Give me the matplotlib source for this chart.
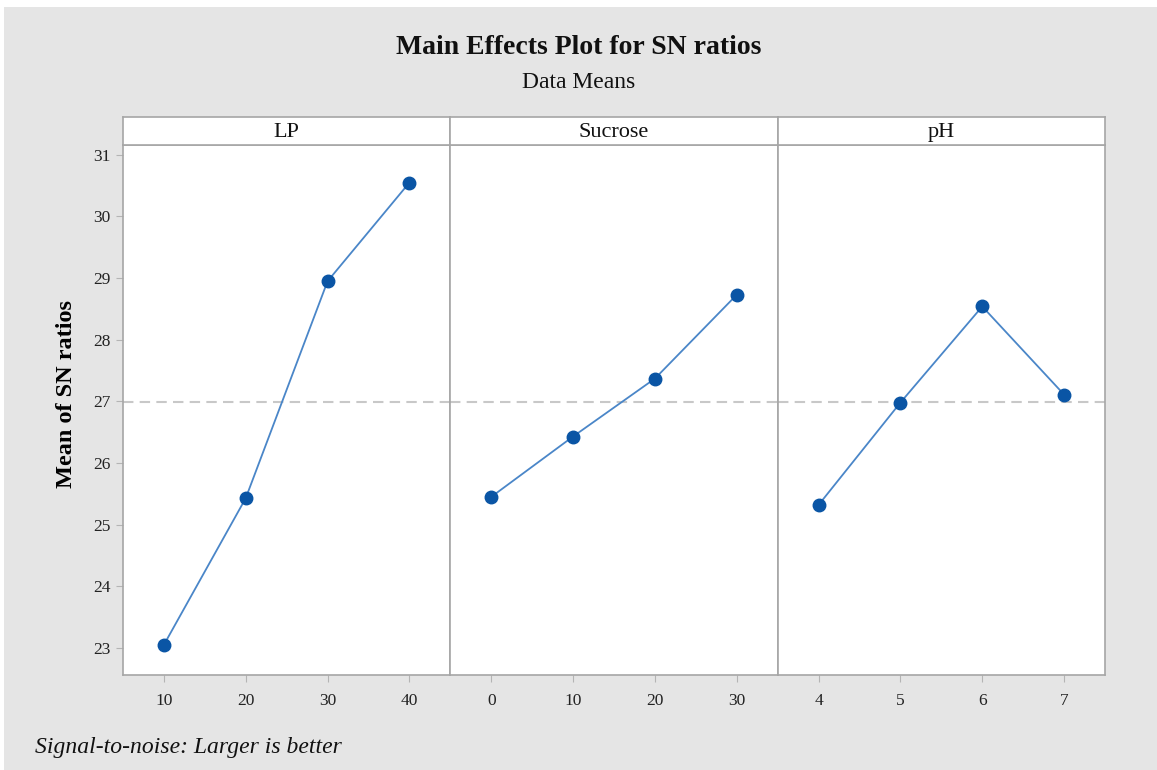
import matplotlib
matplotlib.use("Agg")
import matplotlib.pyplot as plt
import numpy as np
from matplotlib.patches import Rectangle

# Main effects data (mean of SN ratios per factor level)
factors = ["LP", "Sucrose", "pH"]
lp_levels = ["10", "20", "30", "40"]
lp_sn = [23.05, 25.43, 28.95, 30.55]
sucrose_levels = ["0", "10", "20", "30"]
sucrose_sn = [25.45, 26.43, 27.37, 28.73]
ph_levels = ["4", "5", "6", "7"]
ph_sn = [25.32, 26.98, 28.54, 27.11]
y_ticks = [23, 24, 25, 26, 27, 28, 29, 30, 31]

levels = [lp_levels, sucrose_levels, ph_levels]
values = [lp_sn, sucrose_sn, ph_sn]
grand_mean = np.mean(lp_sn)

plt.rcParams["font.family"] = ["Liberation Serif", "DejaVu Serif"]

BG = "#e5e5e5"
EDGE = "#a6a6a6"
LINE = "#4a86c8"
MARK = "#0a55a5"

fig = plt.figure(figsize=(11.57, 7.7), dpi=100)
fig.patch.set_facecolor("white")
fig.patches.append(Rectangle((4 / 1157, 0), 1, 1 - 7 / 770, transform=fig.transFigure,
                             facecolor=BG, edgecolor="none", zorder=-10))

left, right = 123 / 1157, 1105 / 1157
bottom, top = 1 - 675 / 770, 1 - 145 / 770
strip_top = 1 - 117 / 770
w = (right - left) / 3

axes = []
for i, (name, lv, vals) in enumerate(zip(factors, levels, values)):
    ax = fig.add_axes([left + i * w, bottom, w, top - bottom])
    x = np.arange(len(lv))
    ax.plot(x, vals, color=LINE, lw=1.3, zorder=3)
    ax.plot(x, vals, "o", color=MARK, ms=9, zorder=4)
    ax.axhline(grand_mean, color="#c8c8c8", lw=1.5, ls=(0, (5, 3)), zorder=2)
    ax.set_xlim(-0.5, len(lv) - 0.5)
    ax.set_ylim(22.56, 31.16)
    ax.set_xticks(x)
    ax.set_xticklabels(lv)
    ax.set_yticks(y_ticks)
    ax.tick_params(axis="both", direction="out", color="#b4b4b4", length=5,
                   labelsize=12.5, labelcolor="#222222")
    ax.tick_params(axis="x", pad=8)
    ax.tick_params(axis="y", pad=4)
    if i > 0:
        ax.tick_params(axis="y", left=False, labelleft=False)
    for s in ax.spines.values():
        s.set_color(EDGE)
        s.set_linewidth(1.2)
    ax.set_facecolor("white")

    # strip label on top of each panel
    sax = fig.add_axes([left + i * w, top, w, strip_top - top])
    sax.set_xticks([])
    sax.set_yticks([])
    sax.set_facecolor("white")
    for s in sax.spines.values():
        s.set_color(EDGE)
        s.set_linewidth(1.2)
    sax.text(0.5, 0.45, name, ha="center", va="center", fontsize=16, color="#111111")
    axes.append(ax)

axes[0].set_ylabel("Mean of SN ratios", fontsize=17.5, fontweight="bold")
axes[0].yaxis.set_label_coords(-46 / 327, 0.53)

fig.text(0.5, 1 - 47 / 770, "Main Effects Plot for SN ratios", ha="center", va="center",
         fontsize=20, fontweight="bold", color="#111111")
fig.text(0.5, 1 - 82 / 770, "Data Means", ha="center", va="center",
         fontsize=17, color="#111111")
fig.text(35 / 1157, 1 - 748 / 770, "Signal-to-noise: Larger is better", ha="left", va="center",
         fontsize=17, style="italic", color="#111111")

fig.savefig("out.png", dpi=100, facecolor=fig.get_facecolor())
